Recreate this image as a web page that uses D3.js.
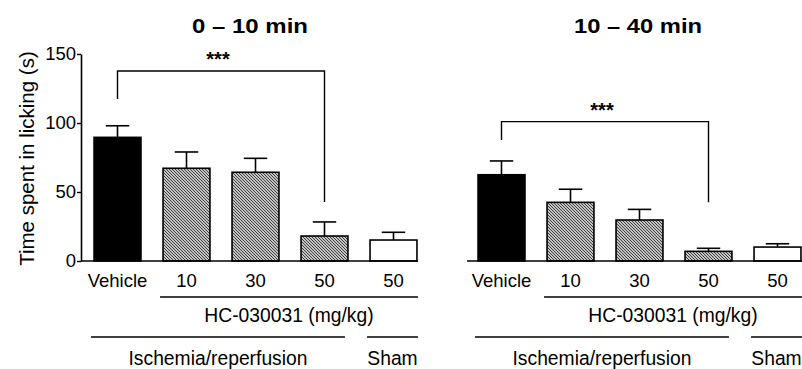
<!DOCTYPE html>
<html>
<head>
<meta charset="utf-8">
<script src="https://cdn.jsdelivr.net/npm/d3@7"></script>
<style>
  html, body { margin: 0; padding: 0; background: #fff; }
  svg { display: block; font-family: "Liberation Sans", Arial, sans-serif; }
</style>
</head>
<body>
<div id="container"></div>
<script>
const width = 802;
const height = 369;

// groups on the x axis
const categories = ["Vehicle", "10", "30", "50", "Sham"];
const tickLabels = ["Vehicle", "10", "30", "50", "50"];
const fills = ["solid", "hatch", "hatch", "hatch", "open"];

// mean and SEM, time spent licking (s)
const titles = ["0 \u2013 10 min", "10 \u2013 40 min"];
const means010 = [89.6, 67.2, 64.3, 18.1, 15.2];
const sem010 = [8.4, 11.8, 10.1, 10.2, 5.6];
const means1040 = [62.5, 42.5, 29.7, 7.0, 10.1];
const sem1040 = [10.0, 9.5, 7.7, 2.2, 2.4];

// significance brackets: Vehicle vs 50 mg/kg
const bracketTop = [137.7, 101];
const bracketLegVehicle = [117.4, 87.7];
const bracketLegDrug = [42.8, 42.5];
const bracketLabel = "***";

const yTicks = [0, 50, 100, 150];
const drugLabel = "HC-030031 (mg/kg)";
const groupLabels = ["Ischemia/reperfusion", "Sham"];

const panels = [
    { title: titles[0], means: means010, sem: sem010, range: [83, 428], axisX: [81, 418], titleX: 250, titleLen: 116, showY: true, k: 0 },
    { title: titles[1], means: means1040, sem: sem1040, range: [467, 812], axisX: [467, 802], titleX: 638, titleLen: 128, showY: false, k: 1 }
];

const y = d3.scaleLinear().domain([0, 150]).range([261, 54]);

const svg = d3.create("svg")
    .attr("width", width)
    .attr("height", height)
    .attr("viewBox", [0, 0, width, height]);

// hatch fill for the drug groups
svg.append("defs").append("pattern")
    .attr("id", "hatch")
    .attr("patternUnits", "userSpaceOnUse")
    .attr("width", 3)
    .attr("height", 3)
    .call(p => {
        p.append("rect").attr("width", 3).attr("height", 3).attr("fill", "#fff");
        p.append("path")
            .attr("d", "M-1,-1 L4,4 M-1,2 L1,4 M2,-1 L4,1")
            .attr("stroke", "#333")
            .attr("stroke-width", 1.1);
    });

const fillFor = f => f === "solid" ? "#000" : f === "hatch" ? "url(#hatch)" : "#fff";

panels.forEach(panel => {
    const x = d3.scaleBand()
        .domain(categories)
        .range(panel.range)
        .paddingInner(0.32)
        .paddingOuter(0.16);
    const bw = x.bandwidth();
    const cx = c => x(c) + bw / 2;
    const g = svg.append("g");

    const rows = categories.map((c, i) => ({ c, label: tickLabels[i], fill: fills[i], mean: panel.means[i], sem: panel.sem[i] }));

    // title (the original face is wide, so stretch to its width)
    g.append("text")
        .attr("x", panel.titleX)
        .attr("y", 33)
        .attr("text-anchor", "middle")
        .attr("textLength", panel.titleLen)
        .attr("lengthAdjust", "spacingAndGlyphs")
        .style("font-size", "20px")
        .style("font-weight", "bold")
        .text(panel.title);

    // error bars (upper only)
    const err = g.append("g").attr("stroke", "#000").attr("stroke-width", 1.6);
    err.selectAll("line.v")
        .data(rows)
        .join("line")
        .attr("class", "v")
        .attr("x1", d => cx(d.c)).attr("x2", d => cx(d.c))
        .attr("y1", d => y(d.mean)).attr("y2", d => y(d.mean + d.sem));
    err.selectAll("line.cap")
        .data(rows)
        .join("line")
        .attr("class", "cap")
        .attr("x1", d => cx(d.c) - bw / 4).attr("x2", d => cx(d.c) + bw / 4)
        .attr("y1", d => y(d.mean + d.sem)).attr("y2", d => y(d.mean + d.sem));

    // bars
    g.append("g")
        .selectAll("rect")
        .data(rows)
        .join("rect")
        .attr("x", d => x(d.c))
        .attr("width", bw)
        .attr("y", d => y(d.mean))
        .attr("height", d => y(0) - y(d.mean))
        .attr("fill", d => fillFor(d.fill))
        .attr("stroke", "#000")
        .attr("stroke-width", 1.6);

    // x baseline
    g.append("line")
        .attr("x1", panel.axisX[0]).attr("x2", panel.axisX[1])
        .attr("y1", y(0)).attr("y2", y(0))
        .attr("stroke", "#000")
        .attr("stroke-width", 1.6);

    // category labels
    g.append("g")
        .selectAll("text")
        .data(rows)
        .join("text")
        .attr("x", d => cx(d.c))
        .attr("y", 287)
        .attr("text-anchor", "middle")
        .style("font-size", "18.5px")
        .text(d => d.label);

    // bracket
    const xa = cx("Vehicle"), xb = cx("50");
    g.append("path")
        .attr("d", `M${xa},${y(bracketLegVehicle[panel.k])}V${y(bracketTop[panel.k])}H${xb}V${y(bracketLegDrug[panel.k])}`)
        .attr("fill", "none")
        .attr("stroke", "#000")
        .attr("stroke-width", 1.4);
    g.append("text")
        .attr("x", (xa + xb) / 2 - 3)
        .attr("y", y(bracketTop[panel.k]) - 5)
        .attr("text-anchor", "middle")
        .style("font-size", "20px")
        .style("font-weight", "bold")
        .text(bracketLabel);

    // group lines and labels
    const lines = [
        { x1: x("10") - 3, x2: x("Sham") + bw + 1, y: 297, label: drugLabel, ty: 321.5 },
        { x1: x("Vehicle") - 3, x2: x("50") + bw - 3, y: 337, label: groupLabels[0], ty: 365 },
        { x1: x("Sham") - 3, x2: x("Sham") + bw + 1, y: 337, label: groupLabels[1], ty: 365 }
    ];
    g.append("g")
        .selectAll("line")
        .data(lines)
        .join("line")
        .attr("x1", d => d.x1).attr("x2", d => d.x2)
        .attr("y1", d => d.y).attr("y2", d => d.y)
        .attr("stroke", "#000")
        .attr("stroke-width", 1.5);
    g.append("g")
        .selectAll("text")
        .data(lines)
        .join("text")
        .attr("x", d => (d.x1 + d.x2) / 2)
        .attr("y", d => d.ty)
        .attr("text-anchor", "middle")
        .style("font-size", "19.3px")
        .text(d => d.label);

    if (panel.showY) {
        const axis = g.append("g")
            .attr("transform", `translate(${panel.axisX[0]},0)`)
            .call(d3.axisLeft(y).tickValues(yTicks).tickSize(4).tickSizeOuter(0).tickPadding(1));
        axis.select(".domain").attr("stroke-width", 1.6);
        axis.selectAll(".tick line").attr("stroke-width", 1.4);
        axis.selectAll(".tick text")
            .style("font-size", "18.5px")
            .style("font-family", "Liberation Sans, Arial, sans-serif")
            .attr("fill", "#000");

        g.append("text")
            .attr("transform", `translate(27,${(y(0) + y(150)) / 2 + 1}) rotate(-90)`)
            .attr("text-anchor", "middle")
            .attr("dy", "0.35em")
            .style("font-size", "20.5px")
            .text("Time spent in licking (s)");
    }
});

d3.select("#container").append(() => svg.node());
</script>
</body>
</html>
